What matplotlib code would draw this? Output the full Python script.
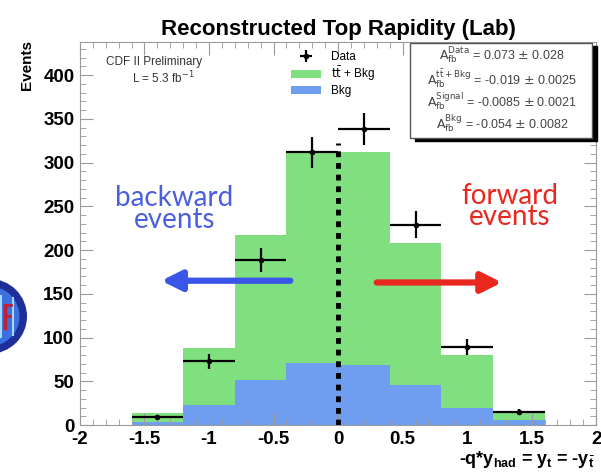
import numpy as np
import matplotlib
matplotlib.use('Agg')
import matplotlib.pyplot as plt
from matplotlib.patches import Circle
from matplotlib.ticker import MultipleLocator

plt.rcParams['font.family'] = ['Liberation Sans', 'DejaVu Sans']

# histogram bins in -q*y_had
edges = [-1.6, -1.2, -0.8, -0.4, 0.0, 0.4, 0.8, 1.2, 1.6]
centers = [-1.4, -1.0, -0.6, -0.2, 0.2, 0.6, 1.0, 1.4]
ttbar_bkg = [14, 88, 217, 312, 312, 208, 80, 15]
bkg = [4, 23, 51, 71, 69, 46, 19, 6]
data = [9, 73, 189, 312, 338, 229, 89, 15]
data_err = [3, 8.5, 13.7, 17.7, 18.4, 15.1, 9.4, 3.9]

stat_lines = [
    r'$\mathrm{A_{fb}^{Data}}$ = 0.073 $\pm$ 0.028',
    r'$\mathrm{A_{fb}^{t\bar{t}+Bkg}}$ = -0.019 $\pm$ 0.0025',
    r'$\mathrm{A_{fb}^{Signal}}$ = -0.0085 $\pm$ 0.0021',
    r'$\mathrm{A_{fb}^{Bkg}}$ = -0.054 $\pm$ 0.0082',
]

green = '#80e080'
blue = '#6f9ef0'
frame = '#9a9a9a'

fig = plt.figure(figsize=(6.01, 4.75), dpi=100)
ax = fig.add_axes([0.133, 0.105, 0.859, 0.807])

ax.stairs(ttbar_bkg, edges, fill=True, color=green, label=r'$\mathrm{t\bar{t}}$ + Bkg')
ax.stairs(bkg, edges, fill=True, color=blue, label='Bkg')
ax.errorbar(centers, data, xerr=0.2, yerr=data_err, fmt='o', color='black',
            ms=3, lw=1.6, capsize=0, label='Data')
ax.plot([0, 0], [0, 322], color='black', lw=3.5, ls=(0, (1.2, 1.2)))

ax.set_xlim(-2, 2)
ax.set_ylim(0, 438)
ax.xaxis.set_major_locator(MultipleLocator(0.5))
ax.xaxis.set_minor_locator(MultipleLocator(0.1))
ax.yaxis.set_major_locator(MultipleLocator(50))
ax.yaxis.set_minor_locator(MultipleLocator(10))
ax.tick_params(which='both', direction='in', top=True, right=True, color=frame)
ax.tick_params(which='major', length=9, labelsize=13.5, pad=4)
ax.tick_params(which='minor', length=4.5)
ax.set_xticks(np.arange(-2, 2.01, 0.5))
ax.set_xticklabels(['-2', '-1.5', '-1', '-0.5', '0', '0.5', '1', '1.5', '2'],
                   fontweight='bold')
for tl in ax.get_yticklabels():
    tl.set_fontweight('bold')
for s in ax.spines.values():
    s.set_color(frame)

ax.set_title('Reconstructed Top Rapidity (Lab)', fontsize=16, fontweight='bold', pad=5)
fig.text(0.045, 0.915, 'Events', rotation=90, ha='center', va='top',
         fontsize=11, fontweight='bold')
fig.text(0.99, 0.01, r'-q*y$_{\mathregular{had}}$ = y$_{\mathregular{t}}$ = -y$_{\bar{\mathregular{t}}}$',
         ha='right', va='bottom', fontsize=13, fontweight='bold')

ax.text(-1.8, 415, 'CDF II Preliminary', fontsize=8.5, color='#333333', va='center')
ax.text(-1.6, 397, r'L = 5.3 fb$^{-1}$', fontsize=8.5, color='#333333', va='center')

h, l = ax.get_legend_handles_labels()
ax.legend([h[2], h[0], h[1]], [l[2], l[0], l[1]], loc='upper left',
          bbox_to_anchor=(0.39, 1.0), frameon=False, fontsize=8.5,
          handlelength=2.6, labelspacing=0.15, borderaxespad=0.4)

# stat box with ROOT-style shadow
box_ax = fig.add_axes([0.683, 0.71, 0.31, 0.2])
box_ax.set_xlim(0, 1)
box_ax.set_ylim(0, 1)
box_ax.axis('off')
box_ax.add_patch(plt.Rectangle((0.025, -0.03), 0.975, 1.0, color='black', clip_on=False))
box_ax.add_patch(plt.Rectangle((0.0, 0.0), 0.975, 1.0, facecolor='white',
                               edgecolor='#555555', lw=1, clip_on=False))
for i, s in enumerate(stat_lines):
    box_ax.text(0.49, 0.86 - i * 0.235, s, ha='center', va='center', fontsize=9,
                color='#444444')

# backward / forward annotations
ax.text(-1.27, 247, 'backward\nevents', color='#4a5fe0', fontsize=20, ha='center',
        va='center', family='Lato', linespacing=0.78)
ax.text(1.33, 250, 'forward\nevents', color='#e8281e', fontsize=20, ha='center',
        va='center', family='Lato', linespacing=0.78)
ax.annotate('', xy=(-1.37, 165), xytext=(-0.37, 165),
            arrowprops=dict(arrowstyle='-|>,head_length=1.2,head_width=0.6',
                            color='#3a55e8', lw=4.5, shrinkA=0, shrinkB=0))
ax.annotate('', xy=(1.27, 163), xytext=(0.3, 163),
            arrowprops=dict(arrowstyle='-|>,head_length=1.2,head_width=0.6',
                            color='#e8281e', lw=4.5, shrinkA=0, shrinkB=0))

# CDF logo stub at left edge (cut off like the original)
logo_ax = fig.add_axes([-0.08, 0.255, 0.125, 0.158])
logo_ax.set_xlim(-1, 1)
logo_ax.set_ylim(-1, 1)
logo_ax.axis('off')
logo_ax.add_patch(Circle((0, 0), 0.98, color='#1f2f9a'))
logo_ax.add_patch(Circle((0, 0), 0.78, color='#3a70e0'))
logo_ax.plot([0.62, 0.62], [-0.5, 0.5], color='#a8d8ff', lw=1.5)
logo_ax.plot([0.3, 0.3], [-0.55, 0.55], color='#a8d8ff', lw=1.5)
logo_ax.plot([0.42, 0.42], [-0.3, 0.3], color='#c02030', lw=2.5)
logo_ax.plot([0.42, 0.58], [0.3, 0.3], color='#c02030', lw=2)
logo_ax.plot([0.42, 0.54], [0.0, 0.0], color='#c02030', lw=2)

fig.savefig('out.png', dpi=100)
